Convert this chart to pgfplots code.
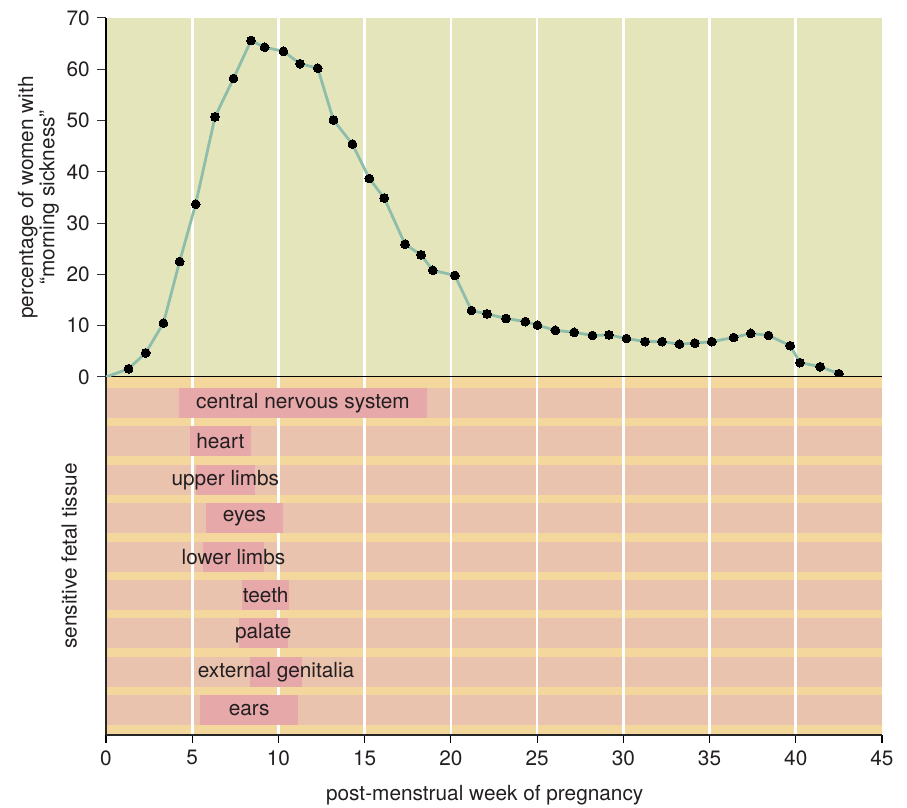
\documentclass[border=0pt]{standalone}
\usepackage{fontspec}
\setmainfont{TeX Gyre Heros}
\usepackage{pgfplots}
\pgfplotsset{compat=1.18}
\definecolor{topbg}{HTML}{E5E5BB}
\definecolor{stripe}{HTML}{F3D79D}
\definecolor{lightpink}{HTML}{E9C3AE}
\definecolor{darkpink}{HTML}{E6A8A8}
\definecolor{linecol}{HTML}{8EBDAA}
\definecolor{txt}{HTML}{231F20}
\newcommand\fs{\fontsize{10.4}{10.6}\selectfont}
\begin{document}
\fs
\begin{tikzpicture}
\path[use as bounding box] (0,0) rectangle (453.5pt,404pt);
% ---------- top panel ----------
\begin{axis}[
  at={(53pt,215.5pt)}, anchor=south west,
  width=388pt, height=179.5pt, scale only axis,
  xmin=0, xmax=45, ymin=0, ymax=70,
  axis background/.style={fill=topbg},
  axis x line*=bottom, axis y line*=left,
  xtick={5,10,...,40}, xticklabels={},
  x tick style={draw=none},
  xmajorgrids, major x grid style={white, line width=1.3pt},
  ytick={0,10,...,70},
  tick align=outside, major tick length=4.5pt,
  y tick style={black!80, line width=0.5pt},
  axis line style={black, line width=0.6pt},
  tick label style={font=\fs, text=txt},
  /pgf/number format/assume math mode=true,
  ylabel={percentage of women with\\``morning sickness''},
  ylabel style={align=center, at={(axis description cs:-0.087,0.5)}, anchor=center,
                font=\fs, text=txt},
  clip=false,
]
\addplot[linecol, line width=1.4pt, mark=*, mark size=2.2pt,
  mark options={fill=black, draw=black, line width=0pt},
  mark indices={2,...,43}] coordinates {
(0,0) (1.31,1.6) (2.30,4.7) (3.33,10.5) (4.27,22.5) (5.20,33.7) (6.32,50.7)
(7.39,58.2) (8.41,65.6) (9.20,64.3) (10.29,63.5) (11.25,61.1) (12.28,60.2)
(13.19,50.1) (14.29,45.4) (15.27,38.7) (16.13,34.9) (17.34,25.9) (18.27,23.8)
(18.95,20.8) (20.23,19.8) (21.20,12.95) (22.10,12.3) (23.20,11.4) (24.32,10.8)
(25.02,10.1) (26.06,9.1) (27.15,8.7) (28.21,8.1) (29.17,8.2) (30.18,7.5)
(31.26,6.9) (32.25,6.9) (33.25,6.4) (34.15,6.6) (35.13,6.9) (36.40,7.7)
(37.39,8.5) (38.42,8.1) (39.68,6.1) (40.24,2.8) (41.42,2.0) (42.50,0.65)
};
\end{axis}
% ---------- bottom panel ----------
\begin{axis}[
  at={(53pt,36.5pt)}, anchor=south west,
  width=388pt, height=179pt, scale only axis,
  xmin=0, xmax=45, ymin=0, ymax=358,
  axis background/.style={fill=stripe},
  axis on top,
  axis x line*=bottom, axis y line*=left,
  xtick={0,5,...,45}, ytick=\empty,
  tick align=outside, major tick length=4pt,
  x tick style={black, line width=0.6pt},
  axis line style={black!85, line width=0.6pt},
  tick label style={font=\fs, text=txt},
  /pgf/number format/assume math mode=true,
  xlabel={post-menstrual week of pregnancy},
  xlabel style={at={(axis description cs:0.488,-0.1676)}, anchor=center,
                font=\fs, text=txt},
  ylabel={sensitive fetal tissue},
  ylabel style={at={(axis description cs:-0.0475,0.5)}, anchor=center,
                font=\fs, text=txt},
  clip=false,
]
\pgfplotsinvokeforeach{0,...,8}{
  \fill[lightpink] (axis cs:0,{317-38.4*#1}) rectangle (axis cs:45,{347-38.4*#1});
}
\pgfplotsinvokeforeach{5,10,...,40}{
  \draw[white, line width=1.3pt] (axis cs:#1,0) -- (axis cs:#1,358);
}
% sensitive periods (start, end) per tissue
\addplot[fill=darkpink, draw=none] coordinates {(4.24,317) (18.6,317) (18.6,347) (4.24,347)} --cycle;
\addplot[fill=darkpink, draw=none] coordinates {(4.87,278.6) (8.39,278.6) (8.39,308.6) (4.87,308.6)} --cycle;
\addplot[fill=darkpink, draw=none] coordinates {(5.22,240.2) (8.62,240.2) (8.62,270.2) (5.22,270.2)} --cycle;
\addplot[fill=darkpink, draw=none] coordinates {(5.80,201.8) (10.25,201.8) (10.25,231.8) (5.80,231.8)} --cycle;
\addplot[fill=darkpink, draw=none] coordinates {(5.63,163.4) (9.15,163.4) (9.15,193.4) (5.63,193.4)} --cycle;
\addplot[fill=darkpink, draw=none] coordinates {(7.91,125) (10.61,125) (10.61,155) (7.91,155)} --cycle;
\addplot[fill=darkpink, draw=none] coordinates {(7.71,86.6) (10.54,86.6) (10.54,116.6) (7.71,116.6)} --cycle;
\addplot[fill=darkpink, draw=none] coordinates {(8.37,48.2) (11.35,48.2) (11.35,78.2) (8.37,78.2)} --cycle;
\addplot[fill=darkpink, draw=none] coordinates {(5.45,9.8) (11.14,9.8) (11.14,39.8) (5.45,39.8)} --cycle;
\begin{scope}[every node/.style={text=txt, font=\fs, anchor=center}]
\node at (axis cs:11.42,332) {central nervous system};
\node at (axis cs:6.63,293.6) {heart};
\node at (axis cs:6.92,255.2) {upper limbs};
\node at (axis cs:8.03,216.8) {eyes};
\node at (axis cs:7.39,178.4) {lower limbs};
\node at (axis cs:9.26,140) {teeth};
\node at (axis cs:9.12,101.6) {palate};
\node at (axis cs:9.86,63.2) {external genitalia};
\node at (axis cs:8.30,24.8) {ears};
\end{scope}
\end{axis}
\end{tikzpicture}
\end{document}
